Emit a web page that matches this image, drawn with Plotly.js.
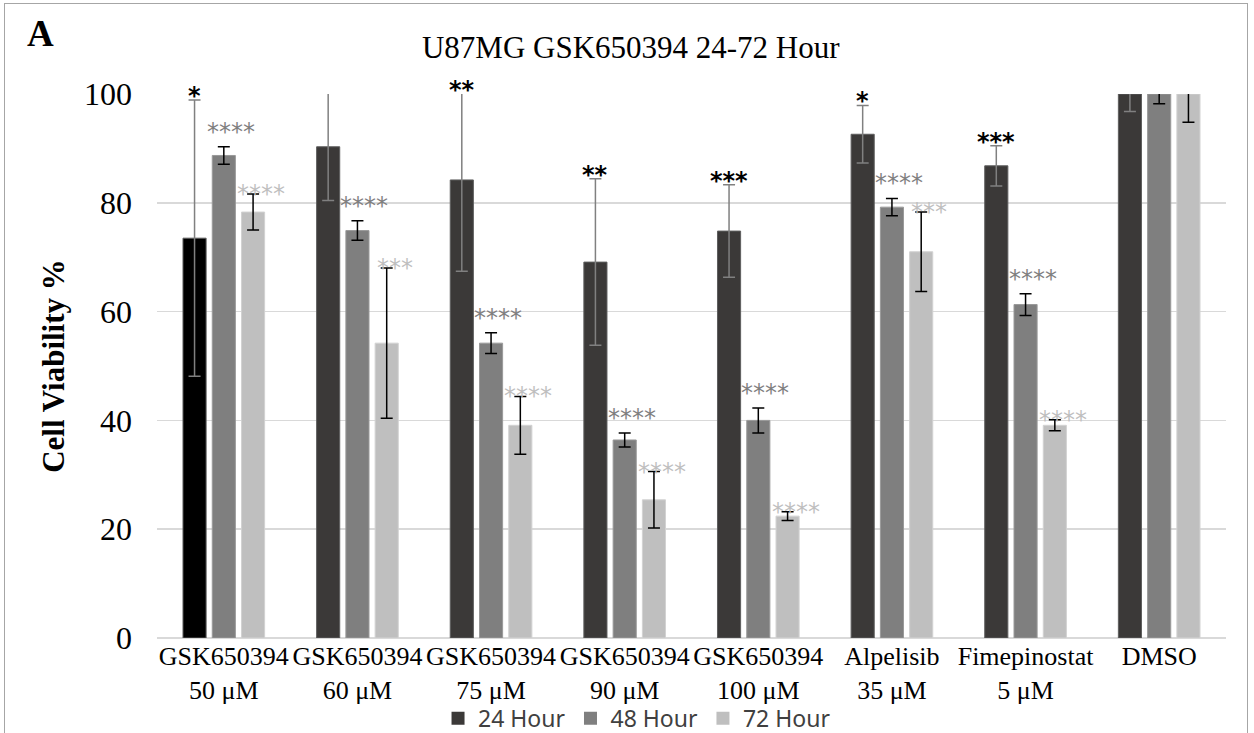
<!DOCTYPE html>
<html>
<head>
<meta charset="utf-8">
<script src="https://cdn.plot.ly/plotly-3.0.1.min.js"></script>
<style>
  html, body { margin: 0; padding: 0; background: #ffffff; }
  #wrap { position: relative; width: 1254px; height: 733px; overflow: hidden; }
  #chart { width: 1254px; height: 733px; }
  #frame { position: absolute; left: 4px; top: 3px; width: 1244px; height: 760px;
           border: 1.5px solid #a6a6a6; pointer-events: none; box-sizing: border-box; }
</style>
</head>
<body>
<div id="wrap">
  <div id="chart"></div>
  <div id="frame"></div>
</div>
<script>
// ---- data ----
var categories = ['GSK650394<br>50 μM', 'GSK650394<br>60 μM', 'GSK650394<br>75 μM',
                  'GSK650394<br>90 μM', 'GSK650394<br>100 μM', 'Alpelisib<br>35 μM',
                  'Fimepinostat<br>5 μM', 'DMSO'];
var seriesNames = ['24 Hour', '48 Hour', '72 Hour'];

var vals24 = [73.5, 90.3, 84.2, 69.1, 74.8, 92.6, 86.8, 100];
var err24  = [25.4, 9.9, 16.8, 15.3, 8.5, 5.3, 3.7, 3.2];
var vals48 = [88.7, 74.9, 54.2, 36.4, 40.0, 79.2, 61.3, 100];
var err48  = [1.6, 1.8, 1.9, 1.3, 2.3, 1.6, 2.0, 1.8];
var vals72 = [78.3, 54.2, 39.1, 25.4, 22.4, 71.0, 39.1, 100];
var err72  = [3.3, 13.8, 5.3, 5.2, 0.8, 7.3, 1.0, 5.2];

var sig24 = ['*', '', '**', '**', '***', '*', '***', ''];
var sig48 = ['****', '****', '****', '****', '****', '****', '****', ''];
var sig72 = ['****', '***', '****', '****', '****', '***', '****', ''];

var yTicks = [0, 20, 40, 60, 80, 100];

// ---- styles ----
var darkColor = '#3b3938', midColor = '#7f7f7f', lightColor = '#bfbfbf';
var seriesColors = [darkColor, midColor, lightColor];
var bargap = 0.343, bargroupgap = 0.21;
var serif = '"Liberation Serif", "Times New Roman", serif';
var sans = '"Noto Sans", "Open Sans", sans-serif';

var colors24 = vals24.map(function (v, i) { return i === 0 ? '#000000' : darkColor; });

function barTrace(name, vals, errs, color, lineColor, errColor) {
  return {
    type: 'bar', name: name, x: categories, y: vals, showlegend: false,
    marker: { color: color, line: { color: lineColor, width: 1 } },
    error_y: { type: 'data', array: errs, visible: true, color: errColor, thickness: 1.5, width: 6 },
    hoverinfo: 'x+y'
  };
}

var traces = [
  barTrace(seriesNames[0], vals24, err24, colors24, '#5e5e5e', '#808080'),
  barTrace(seriesNames[1], vals48, err48, midColor, '#9a9a9a', '#000000'),
  barTrace(seriesNames[2], vals72, err72, lightColor, '#d2d2d2', '#000000')
];
// legend entries (series swatches)
seriesNames.forEach(function (nm, k) {
  traces.push({
    type: 'scatter', mode: 'markers', name: nm, x: [null], y: [null], showlegend: true,
    marker: { symbol: 'square', size: 13, color: seriesColors[k], line: { width: 0 } },
    hoverinfo: 'skip'
  });
});

// significance labels placed above each error bar
var slot = (1 - bargap) / 3;
var annotations = [];
var sigSets = [
  { labels: sig24, vals: vals24, errs: err24, color: '#000000', weight: 'bold', dx: 0, dy: 4 },
  { labels: sig48, vals: vals48, errs: err48, color: '#808080', weight: 'normal', dx: 7, dy: 15 },
  { labels: sig72, vals: vals72, errs: err72, color: '#bfbfbf', weight: 'normal', dx: 8, dy: 0 }
];
sigSets.forEach(function (s, k) {
  s.labels.forEach(function (lab, i) {
    if (!lab) return;
    annotations.push({
      x: i + (k - 1) * slot, y: Math.min(s.vals[i] + s.errs[i], 100),
      xref: 'x', yref: 'y', text: lab, showarrow: false,
      xanchor: 'center', yanchor: 'middle', xshift: s.dx, yshift: s.dy,
      font: { family: '"DejaVu Sans", sans-serif', size: 24, color: s.color, weight: s.weight }
    });
  });
});
annotations.push({
  text: 'A', xref: 'paper', yref: 'paper', x: -0.1235, y: 1.112,
  xanchor: 'left', yanchor: 'middle', showarrow: false,
  font: { family: serif, size: 37, color: '#000000', weight: 'bold' }
});

var layout = {
  width: 1254, height: 733,
  paper_bgcolor: '#ffffff', plot_bgcolor: '#ffffff',
  margin: { l: 157, r: 28, t: 94, b: 95, pad: 0 },
  title: {
    text: 'U87MG GSK650394 24-72 Hour',
    font: { family: serif, size: 31, color: '#000000' },
    xref: 'container', x: 0.503, yref: 'container', y: 0.936, yanchor: 'middle', xanchor: 'center'
  },
  barmode: 'group', bargap: bargap, bargroupgap: bargroupgap,
  xaxis: {
    type: 'category', showgrid: false, zeroline: false, showline: false, ticks: '',
    tickfont: { family: serif, size: 26, color: '#000000' }, automargin: false
  },
  yaxis: {
    range: [0, 100], tickvals: yTicks, ticktext: yTicks.map(String),
    showgrid: true, gridcolor: '#d9d9d9', gridwidth: 1.5,
    zeroline: true, zerolinecolor: '#d9d9d9', zerolinewidth: 1.5,
    showline: false, ticks: '', ticklabelstandoff: 24,
    tickfont: { family: serif, size: 32, color: '#000000' },
    title: { text: 'Cell Viability %', font: { family: serif, size: 31, color: '#000000', weight: 'bold' }, standoff: 10 },
    automargin: false
  },
  showlegend: true,
  legend: {
    orientation: 'h', xref: 'container', yref: 'container', x: 0.508, y: 0.02,
    xanchor: 'center', yanchor: 'middle', traceorder: 'normal', itemwidth: 30,
    font: { family: sans, size: 23, color: '#404040' }, bgcolor: 'rgba(0,0,0,0)'
  },
  annotations: annotations
};

Plotly.newPlot('chart', traces, layout, { displayModeBar: false, staticPlot: true });
</script>
</body>
</html>
